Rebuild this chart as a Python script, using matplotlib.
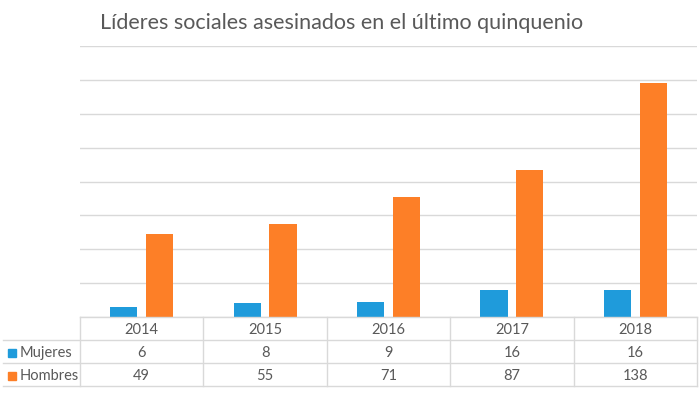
import matplotlib
matplotlib.use('Agg')
import matplotlib.pyplot as plt
from matplotlib.patches import Rectangle
import numpy as np

plt.rcParams['font.family'] = ['Lato', 'DejaVu Sans']

years = ['2014', '2015', '2016', '2017', '2018']
mujeres = [6, 8, 9, 16, 16]
hombres = [49, 55, 71, 87, 138]
series_names = ['Mujeres', 'Hombres']
colors = ['#1f9bdb', '#fd7f27']
grid_color = '#d9d9d9'
text_color = '#595959'

W, H = 700, 394
fig = plt.figure(figsize=(7.0, 3.94), dpi=100)

# plot area in pixels
x0, x1 = 80, 697
y_base, y_top = 317, 46
ax = fig.add_axes([x0 / W, (H - y_base) / H, (x1 - x0) / W, (y_base - y_top) / H])
x = np.arange(len(years))
w = 0.22
off = 0.145
ax.bar(x - off, mujeres, w, color=colors[0], zorder=3)
ax.bar(x + off, hombres, w, color=colors[1], zorder=3)
ax.set_xlim(-0.5, len(years) - 0.5)
ax.set_ylim(0, 160)
ax.set_yticks(np.arange(0, 161, 20))
ax.grid(axis='y', color=grid_color, lw=1)
ax.tick_params(left=False, bottom=False, labelleft=False, labelbottom=False)
for s in ax.spines.values():
    s.set_visible(False)

fig.text(100 / W, (H - 23) / H, 'Líderes sociales asesinados en el último quinquenio',
         fontsize=15.5, color=text_color, ha='left', va='center')

# data table
row_h = 23
tab_bottom = y_base + 3 * row_h
tax = fig.add_axes([x0 / W, (H - tab_bottom) / H, (x1 - x0) / W, 3 * row_h / H])
tax.set_xlim(-0.5, len(years) - 0.5)
tax.set_ylim(3, 0)
tax.axis('off')
unit = (x1 - x0) / len(years)
left_edge = -0.5 - (x0 - 3) / unit

for r in [0, 1, 2, 3]:
    xs = -0.5 if r == 0 else left_edge
    tax.plot([xs, len(years) - 0.5], [r, r], color=grid_color, lw=1, clip_on=False)
for c in range(len(years) + 1):
    tax.plot([c - 0.5, c - 0.5], [0, 3], color=grid_color, lw=1, clip_on=False)

fs = 10.5
for i, yr in enumerate(years):
    tax.text(i, 0.55, yr, ha='center', va='center', fontsize=fs, color=text_color)
    tax.text(i, 1.55, str(mujeres[i]), ha='center', va='center', fontsize=fs, color=text_color)
    tax.text(i, 2.55, str(hombres[i]), ha='center', va='center', fontsize=fs, color=text_color)

sq = 8 / unit
for r, (name, col) in enumerate(zip(series_names, colors)):
    yc = 1.55 + r
    tax.add_patch(Rectangle((left_edge + 5 / unit, yc - 0.17), sq, 0.36, color=col, clip_on=False))
    tax.text(left_edge + 17 / unit, yc, name, ha='left', va='center', fontsize=fs, color=text_color)

fig.savefig('out.png', dpi=100, facecolor='white')
